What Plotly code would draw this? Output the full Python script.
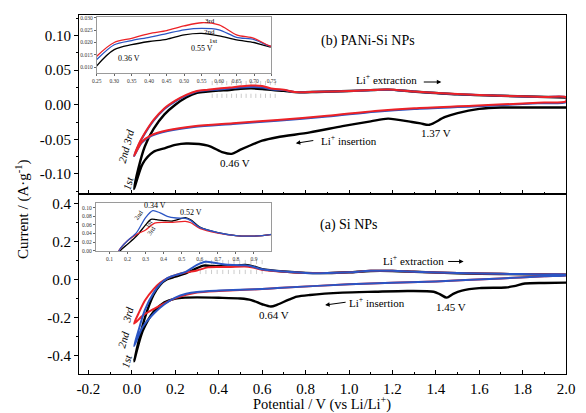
import numpy as np
import plotly.graph_objects as go

# ---------------- DATA ----------------
# (b) PANi-Si NPs : cathodic sweep (2.0 -> 0.01 V) then anodic sweep (-> 2.0 V)
b1_cath_v = [2.0, 1.8, 1.7, 1.6, 1.5, 1.44, 1.37, 1.33, 1.29, 1.18, 1.1, 0.97, 0.82, 0.67, 0.6, 0.5, 0.46, 0.42, 0.35, 0.25, 0.2, 0.15, 0.1, 0.05, 0.01]
b1_cath_i = [-0.004, -0.004, -0.004, -0.006, -0.012, -0.018, -0.029, -0.027, -0.025, -0.020, -0.024, -0.031, -0.040, -0.047, -0.052, -0.065, -0.071, -0.069, -0.059, -0.056, -0.058, -0.063, -0.068, -0.085, -0.122]
b1_anod_v = [0.03, 0.06, 0.1, 0.15, 0.2, 0.25, 0.3, 0.35, 0.4, 0.45, 0.5, 0.55, 0.6, 0.65, 0.7, 0.75, 0.85, 1.0, 1.1, 1.18, 1.3, 1.5, 1.7, 2.0]
b1_anod_i = [-0.092, -0.060, -0.035, -0.014, 0.0, 0.0105, 0.0171, 0.0191, 0.0204, 0.0213, 0.0231, 0.0237, 0.0227, 0.0211, 0.0200, 0.0182, 0.0185, 0.0198, 0.0212, 0.0218, 0.019, 0.015, 0.013, 0.0105]

b2_cath_v = [2.0, 1.87, 1.57, 1.3, 1.12, 0.9, 0.67, 0.465, 0.285, 0.165, 0.09, 0.045, 0.01]
b2_cath_i = [0.004, 0.002, -0.0025, -0.006, -0.010, -0.017, -0.023, -0.0277, -0.032, -0.038, -0.045, -0.055, -0.074]
b2_anod_v = [0.03, 0.05, 0.1, 0.15, 0.2, 0.25, 0.3, 0.35, 0.4, 0.45, 0.5, 0.55, 0.6, 0.65, 0.7, 0.75, 0.85, 1.0, 1.1, 1.18, 1.3, 1.5, 1.7, 1.9, 2.0]
b2_anod_i = [-0.059, -0.047, -0.023, -0.006, 0.005, 0.0131, 0.0191, 0.0208, 0.0221, 0.0236, 0.0251, 0.0257, 0.0251, 0.0221, 0.0212, 0.0184, 0.0187, 0.0198, 0.0211, 0.0216, 0.0191, 0.0153, 0.013, 0.0112, 0.0106]

b3_cath_v = [2.0, 1.87, 1.57, 1.3, 1.12, 0.9, 0.67, 0.465, 0.285, 0.165, 0.09, 0.045, 0.01]
b3_cath_i = [0.005, 0.003, -0.0015, -0.005, -0.009, -0.016, -0.022, -0.0267, -0.031, -0.037, -0.044, -0.054, -0.074]
b3_anod_v = [0.03, 0.05, 0.1, 0.15, 0.2, 0.25, 0.3, 0.35, 0.4, 0.45, 0.5, 0.55, 0.6, 0.65, 0.7, 0.75, 0.85, 1.0, 1.1, 1.18, 1.3, 1.5, 1.7, 1.9, 2.0]
b3_anod_i = [-0.058, -0.046, -0.022, -0.005, 0.006, 0.0144, 0.0200, 0.0217, 0.0236, 0.0248, 0.0267, 0.0280, 0.0271, 0.0231, 0.0217, 0.0184, 0.0188, 0.0198, 0.0212, 0.022, 0.0192, 0.0155, 0.013, 0.0113, 0.0108]

# (a) Si NPs
a1_cath_v = [2.0, 1.9, 1.81, 1.76, 1.72, 1.6, 1.52, 1.48, 1.45, 1.42, 1.39, 1.27, 1.12, 0.97, 0.82, 0.76, 0.72, 0.67, 0.64, 0.6, 0.55, 0.5, 0.4, 0.3, 0.25, 0.2, 0.15, 0.1, 0.05, 0.01]
a1_cath_i = [-0.016, -0.018, -0.021, -0.035, -0.042, -0.045, -0.058, -0.075, -0.095, -0.078, -0.064, -0.060, -0.064, -0.069, -0.081, -0.090, -0.107, -0.132, -0.142, -0.130, -0.108, -0.100, -0.096, -0.094, -0.095, -0.100, -0.120, -0.170, -0.270, -0.430]
a1_anod_v = [0.03, 0.06, 0.1, 0.13, 0.16, 0.2, 0.25, 0.3, 0.33, 0.36, 0.4, 0.45, 0.5, 0.52, 0.55, 0.6, 0.7, 0.8, 0.9, 1.0, 1.1, 1.2, 1.3, 1.5, 1.7, 2.0]
a1_anod_i = [-0.33, -0.20, -0.08, -0.028, 0.0, 0.015, 0.034, 0.060, 0.073, 0.072, 0.070, 0.069, 0.075, 0.077, 0.072, 0.055, 0.042, 0.035, 0.034, 0.038, 0.045, 0.045, 0.041, 0.033, 0.029, 0.025]

a2_cath_v = [2.0, 1.9, 1.7, 1.4, 1.0, 0.67, 0.6, 0.4, 0.3, 0.25, 0.2, 0.15, 0.1, 0.05, 0.01]
a2_cath_i = [0.022, 0.017, 0.006, -0.010, -0.025, -0.045, -0.050, -0.058, -0.065, -0.075, -0.095, -0.130, -0.180, -0.250, -0.350]
a2_anod_v = [0.03, 0.06, 0.1, 0.13, 0.16, 0.2, 0.25, 0.3, 0.34, 0.38, 0.42, 0.47, 0.52, 0.55, 0.6, 0.7, 0.8, 0.9, 1.0, 1.1, 1.2, 1.3, 1.5, 1.7, 1.9, 2.0]
a2_anod_i = [-0.27, -0.16, -0.07, -0.025, 0.005, 0.023, 0.042, 0.077, 0.093, 0.088, 0.080, 0.076, 0.075, 0.070, 0.054, 0.042, 0.035, 0.034, 0.038, 0.046, 0.046, 0.041, 0.034, 0.030, 0.027, 0.025]

a3_cath_v = [2.0, 1.9, 1.7, 1.4, 1.0, 0.67, 0.6, 0.4, 0.3, 0.25, 0.2, 0.15, 0.1, 0.05, 0.01]
a3_cath_i = [0.022, 0.017, 0.006, -0.010, -0.025, -0.045, -0.050, -0.060, -0.068, -0.080, -0.098, -0.125, -0.155, -0.190, -0.232]
a3_anod_v = [0.03, 0.06, 0.1, 0.13, 0.16, 0.2, 0.25, 0.3, 0.35, 0.4, 0.45, 0.52, 0.55, 0.6, 0.7, 0.8, 0.9, 1.0, 1.1, 1.2, 1.3, 1.5, 1.7, 1.9, 2.0]
a3_anod_i = [-0.18, -0.11, -0.05, -0.017, 0.005, 0.023, 0.038, 0.048, 0.064, 0.066, 0.066, 0.068, 0.065, 0.052, 0.041, 0.035, 0.034, 0.038, 0.046, 0.046, 0.041, 0.034, 0.030, 0.027, 0.025]

# tick labels
x_ticks = [-0.2, 0.0, 0.2, 0.4, 0.6, 0.8, 1.0, 1.2, 1.4, 1.6, 1.8, 2.0]
x_ticktext = ["-0.2", "0.0", "0.2", "0.4", "0.6", "0.8", "1.0", "1.2", "1.4", "1.6", "1.8", "2.0"]
yb_ticks = [-0.10, -0.05, 0.0, 0.05, 0.10]
yb_ticktext = ["-0.10", "-0.05", "0.00", "0.05", "0.10"]
ya_ticks = [-0.4, -0.2, 0.0, 0.2, 0.4]
ya_ticktext = ["-0.4", "-0.2", "0.0", "0.2", "0.4"]
insb_xticks = [0.25, 0.30, 0.35, 0.40, 0.45, 0.50, 0.55, 0.60, 0.65, 0.70, 0.75]
insb_yticks = [0.010, 0.015, 0.020, 0.025, 0.030]
insa_xticks = [0.1, 0.2, 0.3, 0.4, 0.5, 0.6, 0.7, 0.8, 0.9]
insa_yticks = [0.00, 0.02, 0.04, 0.06, 0.08, 0.10]

# dotted zoom-window marks
zoom_b_v = list(np.linspace(0.37, 0.66, 14))
zoom_b_i = [0.0314, 0.0129]
zoom_a_v = list(np.linspace(0.315, 0.60, 12))
zoom_a_i = [0.092, 0.040]

# ---------------- FIGURE ----------------
BLACK = "#000000"
BLUE = "#2b55c4"
RED = "#ec2227"
FONT = "Liberation Serif"


def loop(cv, ci, av, ai, close=False):
    v = list(cv) + list(av)
    i = list(ci) + list(ai)
    if close:
        v.append(cv[0])
        i.append(ci[0])
    return v, i


fig = go.Figure()

panel_b = [
    (b1_cath_v, b1_cath_i, b1_anod_v, b1_anod_i, BLACK, 2.4, False),
    (b2_cath_v, b2_cath_i, b2_anod_v, b2_anod_i, BLUE, 2.0, True),
    (b3_cath_v, b3_cath_i, b3_anod_v, b3_anod_i, RED, 2.0, True),
]
panel_a = [
    (a1_cath_v, a1_cath_i, a1_anod_v, a1_anod_i, BLACK, 2.4, False),
    (a3_cath_v, a3_cath_i, a3_anod_v, a3_anod_i, RED, 2.0, True),
    (a2_cath_v, a2_cath_i, a2_anod_v, a2_anod_i, BLUE, 2.0, True),
]

for yy in zoom_b_i:
    fig.add_trace(go.Scatter(x=zoom_b_v, y=[yy] * len(zoom_b_v), mode="markers", xaxis="x2", yaxis="y2",
                             marker=dict(symbol="line-ns", size=3, line=dict(width=0.6, color="#aaa")),
                             showlegend=False, hoverinfo="skip"))
for yy in zoom_a_i:
    fig.add_trace(go.Scatter(x=zoom_a_v, y=[yy] * len(zoom_a_v), mode="markers", xaxis="x", yaxis="y",
                             marker=dict(symbol="line-ns", size=3, line=dict(width=0.6, color="#aaa")),
                             showlegend=False, hoverinfo="skip"))

for cv, ci, av, ai, col, w, cl in panel_b:
    v, i = loop(cv, ci, av, ai, cl)
    fig.add_trace(go.Scatter(x=v, y=i, mode="lines", xaxis="x2", yaxis="y2",
                             line=dict(color=col, width=w, shape="spline", smoothing=0.8),
                             showlegend=False, hoverinfo="skip"))
    fig.add_trace(go.Scatter(x=v, y=i, mode="lines", xaxis="x3", yaxis="y3",
                             line=dict(color=col, width=1.3, shape="spline", smoothing=0.8),
                             showlegend=False, hoverinfo="skip"))

for cv, ci, av, ai, col, w, cl in panel_a:
    v, i = loop(cv, ci, av, ai, cl)
    fig.add_trace(go.Scatter(x=v, y=i, mode="lines", xaxis="x", yaxis="y",
                             line=dict(color=col, width=w, shape="spline", smoothing=0.8),
                             showlegend=False, hoverinfo="skip"))
    fig.add_trace(go.Scatter(x=v, y=i, mode="lines", xaxis="x4", yaxis="y4",
                             line=dict(color=col, width=1.3, shape="spline", smoothing=0.8),
                             showlegend=False, hoverinfo="skip"))

XDOM = [0.1297, 0.981]
XR = [-0.2427, 2.0]
SPLIT = 0.529

main_x = dict(range=XR, domain=XDOM, showline=True, linecolor="black", linewidth=1.3, mirror=True,
              ticks="inside", ticklen=4, tickwidth=1, tickcolor="black",
              tickmode="array", tickvals=x_ticks, ticktext=x_ticktext,
              minor=dict(ticks="inside", ticklen=2.5, tickcolor="black",
                         tickmode="array", tickvals=[round(-0.1 + 0.2 * k, 2) for k in range(11)]),
              showgrid=False, zeroline=False, tickfont=dict(family=FONT, size=15, color="black"))

main_y_common = dict(showline=True, linecolor="black", linewidth=1.3, mirror=True,
                     ticks="outside", ticklen=4, tickwidth=1, tickcolor="black",
                     showgrid=False, zeroline=False, tickfont=dict(family=FONT, size=15, color="black"))

ins_common = dict(showline=True, linecolor="#9a9a9a", linewidth=1, mirror=True,
                  ticks="outside", ticklen=2, tickwidth=0.6, tickcolor="#666",
                  showgrid=False, zeroline=False, tickfont=dict(family=FONT, size=5.5, color="#333"))

fig.update_layout(
    width=586, height=413, autosize=False,
    margin=dict(l=0, r=0, t=0, b=0),
    paper_bgcolor="white", plot_bgcolor="white",
    xaxis=dict(main_x, anchor="y"),
    yaxis=dict(main_y_common, domain=[0.0872, SPLIT], range=[-0.499, 0.449], anchor="x",
               tickmode="array", tickvals=ya_ticks, ticktext=ya_ticktext,
               minor=dict(ticks="outside", ticklen=2.5, tickcolor="black", tickmode="array",
                          tickvals=[-0.3, -0.1, 0.1, 0.3])),
    xaxis2=dict(main_x, anchor="y2", showticklabels=False, matches="x"),
    yaxis2=dict(main_y_common, domain=[SPLIT, 0.9685], range=[-0.1293, 0.130], anchor="x2",
                tickmode="array", tickvals=yb_ticks, ticktext=yb_ticktext,
                minor=dict(ticks="outside", ticklen=2.5, tickcolor="black", tickmode="array",
                           tickvals=[-0.125, -0.075, -0.025, 0.025, 0.075, 0.125])),
    xaxis3=dict(ins_common, domain=[0.1604, 0.4659], range=[0.25, 0.75], anchor="y3",
                tickmode="array", tickvals=insb_xticks, ticktext=["%.2f" % t for t in insb_xticks]),
    yaxis3=dict(ins_common, domain=[0.8257, 0.9637], range=[0.0076, 0.0304], anchor="x3",
                tickmode="array", tickvals=insb_yticks, ticktext=["%.3f" % t for t in insb_yticks]),
    xaxis4=dict(ins_common, domain=[0.1587, 0.4659], range=[0.0243, 0.997], anchor="y4",
                tickmode="array", tickvals=insa_xticks, ticktext=["%.1f" % t for t in insa_xticks]),
    yaxis4=dict(ins_common, domain=[0.3898, 0.5085], range=[-0.0007, 0.112], anchor="x4",
                tickmode="array", tickvals=insa_yticks, ticktext=["%.2f" % t for t in insa_yticks]),
)

ann = []


def txt(x, y, s, size=11, xref="x", yref="y", angle=0, italic=False):
    if italic:
        s = "<i>" + s + "</i>"
    ann.append(dict(x=x, y=y, xref=xref, yref=yref, text=s, showarrow=False, textangle=angle,
                    xanchor="center", yanchor="middle",
                    font=dict(family=FONT, size=size, color="black")))


def arrow(x, y, ax, ay, xref, yref):
    ann.append(dict(x=x, y=y, xref=xref, yref=yref, text="", showarrow=True, ax=ax, ay=ay,
                    arrowhead=2, arrowsize=0.9, arrowwidth=1, arrowcolor="black"))


# panel (b)
txt(1.088, 0.0929, "(b) PANi-Si NPs", 14, "x2", "y2")
txt(1.173, 0.0372, "Li<sup>+</sup> extraction", 11, "x2", "y2")
arrow(1.425, 0.0329, -19, 0, "x2", "y2")
txt(0.998, -0.0514, "Li<sup>+</sup> insertion", 11, "x2", "y2")
arrow(0.755, -0.0557, 19, -3, "x2", "y2")
txt(1.402, -0.0414, "1.37 V", 11, "x2", "y2")
txt(0.476, -0.0843, "0.46 V", 11, "x2", "y2")
txt(-0.026, -0.060, "2nd 3rd", 11, "x2", "y2", angle=-75, italic=True)
txt(-0.018, -0.113, "1st", 11, "x2", "y2", angle=-75, italic=True)
# inset (b)
txt(0.574, 0.0287, "3rd", 7, "x3", "y3")
txt(0.574, 0.0241, "2nd", 7, "x3", "y3")
txt(0.582, 0.0207, "1st", 7, "x3", "y3")
txt(0.551, 0.0177, "0.55 V", 8, "x3", "y3")
txt(0.341, 0.0135, "0.36 V", 8, "x3", "y3")

# panel (a)
txt(0.998, 0.2857, "(a) Si NPs", 14, "x", "y")
txt(1.299, 0.104, "Li<sup>+</sup> extraction", 11, "x", "y")
arrow(1.528, 0.095, -17, 0, "x", "y")
txt(1.131, -0.119, "Li<sup>+</sup> insertion", 11, "x", "y")
arrow(0.89, -0.134, 22, -3, "x", "y")
txt(1.47, -0.142, "1.45 V", 11, "x", "y")
txt(0.656, -0.189, "0.64 V", 11, "x", "y")
txt(-0.018, -0.187, "3rd", 11, "x", "y", angle=-75, italic=True)
txt(-0.040, -0.317, "2nd", 11, "x", "y", angle=-75, italic=True)
txt(-0.026, -0.426, "1st", 11, "x", "y", angle=-75, italic=True)
# inset (a)
txt(0.354, 0.104, "0.34 V", 8, "x4", "y4")
txt(0.549, 0.0885, "0.52 V", 8, "x4", "y4")
txt(0.262, 0.0845, "2nd", 6.5, "x4", "y4", angle=-55)
txt(0.315, 0.064, "1st", 6.5, "x4", "y4", angle=-55)
txt(0.332, 0.046, "3rd", 6.5, "x4", "y4", angle=-55)

# axis titles
ann.append(dict(x=0.0307, y=0.4915, xref="paper", yref="paper", showarrow=False, textangle=-90,
                xanchor="center", yanchor="middle",
                text="Current / (A·g<sup>-1</sup>)", font=dict(family=FONT, size=15, color="black")))
ann.append(dict(x=0.555, y=0.0155, xref="paper", yref="paper", showarrow=False,
                xanchor="center", yanchor="middle",
                text="Potential / V (vs Li/Li<sup>+</sup>)", font=dict(family=FONT, size=14.5, color="black")))

fig.update_layout(annotations=ann)

fig.write_html("out.html")
